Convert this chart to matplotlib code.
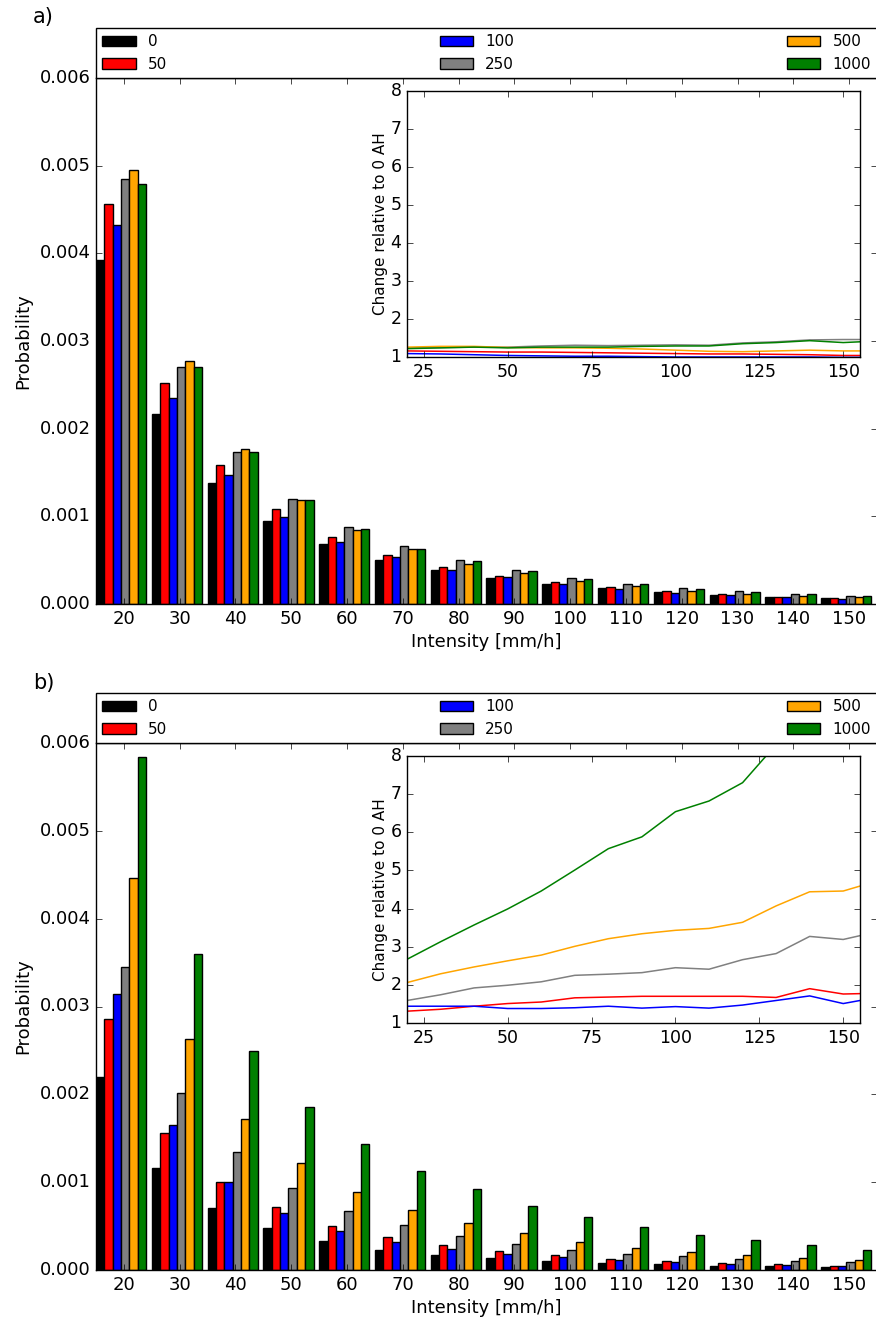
import numpy as np
import matplotlib
matplotlib.use('Agg')
import matplotlib.pyplot as plt
from matplotlib.ticker import FormatStrFormatter

plt.style.use('classic')

# intensity classes [mm/h]
intensity = [20, 30, 40, 50, 60, 70, 80, 90, 100, 110, 120, 130, 140, 150]
labels = ['0', '50', '100', '250', '500', '1000']
colors = ['black', 'red', 'blue', 'gray', 'orange', 'green']

# panel a) probabilities per scenario
prob_a_0 = [0.003924, 0.002167, 0.001376, 0.000951, 0.000681, 0.000505, 0.000388,
            0.000293, 0.000228, 0.000179, 0.000133, 0.000103, 0.000080, 0.000065]
prob_a_50 = [0.004559, 0.002517, 0.001589, 0.001080, 0.000768, 0.000562, 0.000422,
             0.000323, 0.000247, 0.000190, 0.000145, 0.000110, 0.000080, 0.000072]
prob_a_100 = [0.004320, 0.002346, 0.001468, 0.000992, 0.000711, 0.000532, 0.000388,
              0.000304, 0.000232, 0.000175, 0.000129, 0.000099, 0.000080, 0.000060]
prob_a_250 = [0.004848, 0.002707, 0.001734, 0.001202, 0.000878, 0.000662, 0.000498,
              0.000384, 0.000300, 0.000232, 0.000183, 0.000145, 0.000114, 0.000095]
prob_a_500 = [0.004951, 0.002776, 0.001764, 0.001186, 0.000844, 0.000624, 0.000460,
              0.000354, 0.000266, 0.000202, 0.000152, 0.000118, 0.000091, 0.000076]
prob_a_1000 = [0.004791, 0.002700, 0.001738, 0.001186, 0.000859, 0.000631, 0.000487,
               0.000373, 0.000289, 0.000225, 0.000175, 0.000137, 0.000110, 0.000088]

# panel b) probabilities per scenario
prob_b_0 = [0.002201, 0.001161, 0.000706, 0.000475, 0.000330, 0.000228, 0.000171,
            0.000133, 0.000102, 0.000083, 0.000068, 0.000049, 0.000042, 0.000034]
prob_b_50 = [0.002854, 0.001556, 0.001002, 0.000714, 0.000501, 0.000380, 0.000288,
             0.000216, 0.000167, 0.000129, 0.000099, 0.000080, 0.000065, 0.000049]
prob_b_100 = [0.003142, 0.001651, 0.001002, 0.000645, 0.000448, 0.000322, 0.000243,
              0.000179, 0.000144, 0.000110, 0.000088, 0.000072, 0.000057, 0.000046]
prob_b_250 = [0.003453, 0.002011, 0.001343, 0.000934, 0.000668, 0.000516, 0.000384,
              0.000296, 0.000231, 0.000182, 0.000156, 0.000122, 0.000106, 0.000088]
prob_b_500 = [0.004459, 0.002626, 0.001716, 0.001222, 0.000892, 0.000683, 0.000535,
              0.000421, 0.000319, 0.000254, 0.000205, 0.000174, 0.000133, 0.000117]
prob_b_1000 = [0.005841, 0.003598, 0.002490, 0.001856, 0.001431, 0.001127, 0.000926,
               0.000732, 0.000603, 0.000490, 0.000402, 0.000338, 0.000281, 0.000228]

# inset: change relative to 0 AH (lines go a bit past the axis limit)
ratio_x = [20, 30, 40, 50, 60, 70, 80, 90, 100, 110, 120, 130, 140, 150, 160]
ratio_a_50 = [1.16, 1.15, 1.14, 1.13, 1.13, 1.12, 1.11, 1.10, 1.09, 1.08, 1.08, 1.07, 1.06, 1.04, 1.04]
ratio_a_100 = [1.09, 1.08, 1.06, 1.04, 1.03, 1.02, 1.02, 1.01, 1.00, 1.00, 1.00, 1.00, 1.00, 0.99, 0.99]
ratio_a_250 = [1.24, 1.25, 1.26, 1.26, 1.29, 1.31, 1.30, 1.31, 1.32, 1.31, 1.37, 1.40, 1.45, 1.46, 1.46]
ratio_a_500 = [1.26, 1.28, 1.28, 1.25, 1.24, 1.24, 1.23, 1.21, 1.18, 1.15, 1.14, 1.16, 1.18, 1.16, 1.16]
ratio_a_1000 = [1.22, 1.24, 1.26, 1.24, 1.26, 1.26, 1.26, 1.28, 1.29, 1.29, 1.35, 1.38, 1.43, 1.38, 1.42]

ratio_b_50 = [1.31, 1.36, 1.44, 1.51, 1.55, 1.66, 1.68, 1.70, 1.70, 1.70, 1.70, 1.67, 1.90, 1.76, 1.78]
ratio_b_100 = [1.44, 1.44, 1.44, 1.38, 1.38, 1.40, 1.44, 1.39, 1.43, 1.39, 1.47, 1.59, 1.71, 1.51, 1.67]
ratio_b_250 = [1.59, 1.74, 1.92, 1.99, 2.08, 2.25, 2.28, 2.32, 2.45, 2.41, 2.66, 2.82, 3.27, 3.19, 3.39]
ratio_b_500 = [2.06, 2.29, 2.47, 2.63, 2.78, 3.01, 3.21, 3.34, 3.43, 3.48, 3.64, 4.07, 4.44, 4.46, 4.72]
ratio_b_1000 = [2.67, 3.13, 3.57, 3.99, 4.46, 5.01, 5.57, 5.88, 6.54, 6.82, 7.30, 8.30, 9.50, 10.5, 11.5]

panels = [
    ('a)', [prob_a_0, prob_a_50, prob_a_100, prob_a_250, prob_a_500, prob_a_1000],
     [ratio_a_50, ratio_a_100, ratio_a_250, ratio_a_500, ratio_a_1000]),
    ('b)', [prob_b_0, prob_b_50, prob_b_100, prob_b_250, prob_b_500, prob_b_1000],
     [ratio_b_50, ratio_b_100, ratio_b_250, ratio_b_500, ratio_b_1000]),
]

W, H = 876, 1317
fig = plt.figure(figsize=(W / 100., H / 100.), dpi=100, facecolor='white')

def frac(x0, y0, x1, y1):
    # pixel box -> figure fraction rect
    return [x0 / W, 1 - y1 / H, (x1 - x0) / W, (y1 - y0) / H]

main_boxes = [frac(96, 78, 877, 604), frac(96, 743, 877, 1270)]
inset_boxes = [frac(407, 91, 860, 357), frac(407, 756, 860, 1023)]
tag_pos = [(33, 17), (33, 683)]

bw = 1.5
x = np.array(intensity, dtype=float)

for k, (tag, probs, ratios) in enumerate(panels):
    ax = fig.add_axes(main_boxes[k])
    for i, (p, c, lab) in enumerate(zip(probs, colors, labels)):
        ax.bar(x - 5 + i * bw, p, bw, align='edge', color=c, edgecolor='black',
               linewidth=1.0, label=lab)
    ax.set_xlim(15, 155)
    ax.set_ylim(0, 0.006)
    ax.set_xticks(intensity)
    ax.yaxis.set_major_formatter(FormatStrFormatter('%.3f'))
    ax.tick_params(labelsize=13)
    ax.set_xlabel('Intensity [mm/h]', fontsize=13, labelpad=4)
    ax.set_ylabel('Probability', fontsize=13)
    ax.legend(bbox_to_anchor=(0., 1.0, 1., 0.1), loc='lower left', ncol=3,
              mode='expand', borderaxespad=0., fontsize=11, fancybox=False,
              handlelength=2.2, labelspacing=0.5)
    fig.text(tag_pos[k][0] / W, 1 - tag_pos[k][1] / H, tag, fontsize=15,
             ha='left', va='center')

    ins = fig.add_axes(inset_boxes[k])
    for r, c in zip(ratios, colors[1:]):
        ins.plot(ratio_x, r, color=c, linewidth=1.1)
    ins.set_xlim(20, 155)
    ins.set_ylim(1, 8)
    ins.set_xticks([25, 50, 75, 100, 125, 150])
    ins.set_yticks(range(1, 9))
    ins.tick_params(labelsize=12.5)
    ins.set_ylabel('Change relative to 0 AH', fontsize=11, labelpad=2)

fig.savefig('out.png', dpi=100, facecolor='white')
